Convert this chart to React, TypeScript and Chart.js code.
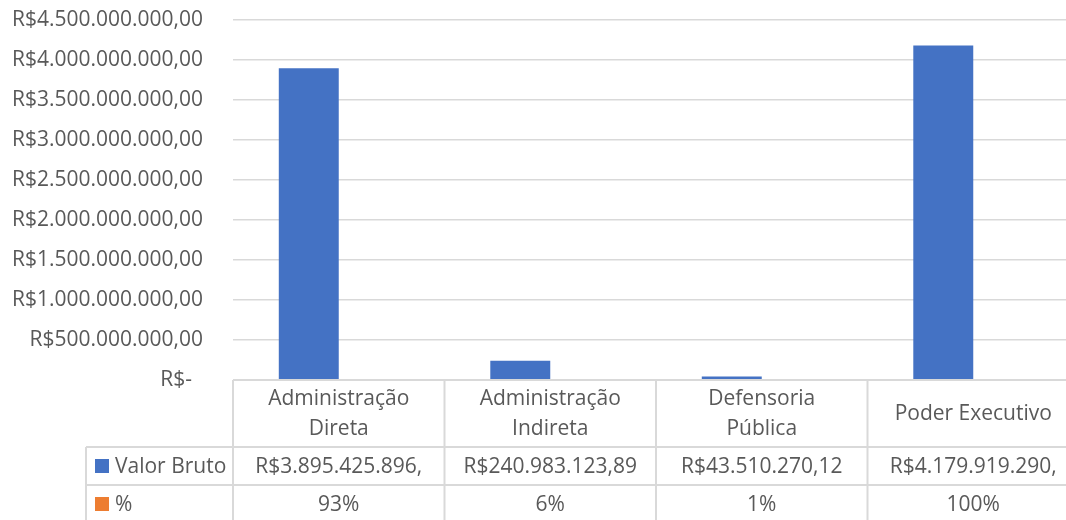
import React, { useEffect, useRef } from "react";
import { Chart, registerables } from "chart.js";

Chart.register(...registerables);

// ---- Data ----
const categories: string[][] = [
  ["Administração", "Direta"],
  ["Administração", "Indireta"],
  ["Defensoria", "Pública"],
  ["Poder Executivo"],
];
const valorBruto: number[] = [3895425896, 240983123.89, 43510270.12, 4179919290];
const percent: number[] = [0.93, 0.06, 0.01, 1.0];
const valorBrutoLabels: string[] = [
  "R$3.895.425.896,",
  "R$240.983.123,89",
  "R$43.510.270,12",
  "R$4.179.919.290,",
];
const percentLabels: string[] = ["93%", "6%", "1%", "100%"];
const seriesNames: string[] = ["Valor Bruto", "%"];
const seriesColors: string[] = ["#4472C4", "#ED7D31"];
const yMin = 0;
const yMax = 4500000000;
const yStep = 500000000;

const FONT = "'Open Sans', 'Noto Sans', sans-serif";
const FONT_SIZE = 21;
const TEXT = "#595959";
const LINE = "#d9d9d9";

function formatBRL(v: number): string {
  if (v === 0) return "R$-  ";
  const s = Math.round(v)
    .toString()
    .replace(/\B(?=(\d{3})+(?!\d))/g, ".");
  return "R$" + s + ",00";
}

const tablePlugin = {
  id: "dataTable",
  afterDraw(chart: any) {
    const ctx = chart.ctx as CanvasRenderingContext2D;
    const xs = chart.scales.x;
    const n = categories.length;
    const cw = (xs.right - xs.left) / n;
    const top = chart.chartArea.bottom;
    const headerBottom = top + 67;
    const row2Bottom = headerBottom + 38;
    const row3Bottom = row2Bottom + 38;
    const legendLeft = 86;
    const right = xs.right;

    ctx.save();
    ctx.strokeStyle = LINE;
    ctx.lineWidth = 2;
    ctx.beginPath();
    ctx.moveTo(xs.left, top);
    ctx.lineTo(right, top);
    ctx.moveTo(legendLeft, headerBottom);
    ctx.lineTo(right, headerBottom);
    ctx.moveTo(legendLeft, row2Bottom);
    ctx.lineTo(right, row2Bottom);
    ctx.moveTo(legendLeft, row3Bottom);
    ctx.lineTo(right, row3Bottom);
    ctx.moveTo(legendLeft, headerBottom);
    ctx.lineTo(legendLeft, row3Bottom);
    for (let i = 0; i <= n; i++) {
      const cx = xs.left + i * cw;
      ctx.moveTo(cx, top);
      ctx.lineTo(cx, row3Bottom);
    }
    ctx.stroke();

    ctx.fillStyle = TEXT;
    ctx.font = `${FONT_SIZE}px ${FONT}`;
    ctx.textAlign = "center";
    ctx.textBaseline = "middle";
    const headerMid = (top + headerBottom) / 2 + 1;
    const r2Mid = (headerBottom + row2Bottom) / 2 + 1;
    const r3Mid = (row2Bottom + row3Bottom) / 2 + 1;
    for (let i = 0; i < n; i++) {
      const cx = xs.getPixelForValue(i);
      const lines = categories[i];
      const lh = 30;
      const startY = headerMid - ((lines.length - 1) * lh) / 2;
      lines.forEach((l, k) => ctx.fillText(l, cx, startY + k * lh));
      ctx.fillText(valorBrutoLabels[i], cx, r2Mid);
      ctx.fillText(percentLabels[i], cx, r3Mid);
    }

    const mids = [r2Mid - 1, r3Mid - 1];
    ctx.textAlign = "left";
    for (let s = 0; s < seriesNames.length; s++) {
      ctx.fillStyle = seriesColors[s];
      ctx.fillRect(95, mids[s] - 7, 14, 14);
      ctx.fillStyle = TEXT;
      ctx.fillText(seriesNames[s], 115, mids[s] + 1);
    }
    ctx.restore();
  },
};

export default function App() {
  const ref = useRef<HTMLCanvasElement | null>(null);

  useEffect(() => {
    if (!ref.current) return;
    const chart = new Chart(ref.current, {
      type: "bar",
      data: {
        labels: categories.map((c) => c.join(" ")),
        datasets: seriesNames.map((name, s) => ({
          label: name,
          data: s === 0 ? valorBruto : percent,
          backgroundColor: seriesColors[s],
          borderWidth: 0,
          categoryPercentage: 0.567,
          barPercentage: 1,
        })),
      },
      options: {
        animation: false,
        responsive: false,
        layout: { padding: { left: 0, top: 20, right: 1, bottom: 140 } },
        plugins: {
          legend: { display: false },
          tooltip: { enabled: false },
        },
        scales: {
          x: { display: false, offset: true },
          y: {
            min: yMin,
            max: yMax,
            border: { display: false },
            grid: { color: LINE, lineWidth: 1.5, drawTicks: false },
            afterFit(scale: any) {
              scale.width = 233;
              scale.paddingTop = 0;
              scale.paddingBottom = 0;
            },
            ticks: {
              stepSize: yStep,
              padding: 30,
              color: TEXT,
              font: { family: FONT, size: FONT_SIZE },
              callback: (v: any) => formatBRL(Number(v)),
            },
          },
        },
      },
      plugins: [tablePlugin],
    });
    return () => chart.destroy();
  }, []);

  return (
    <div
      style={{
        position: "fixed",
        left: 0,
        top: 0,
        width: 1066,
        height: 520,
        overflow: "hidden",
        background: "#fff",
      }}
    >
      <canvas ref={ref} width={1080} height={520} style={{ width: 1080, height: 520, display: "block" }} />
    </div>
  );
}
